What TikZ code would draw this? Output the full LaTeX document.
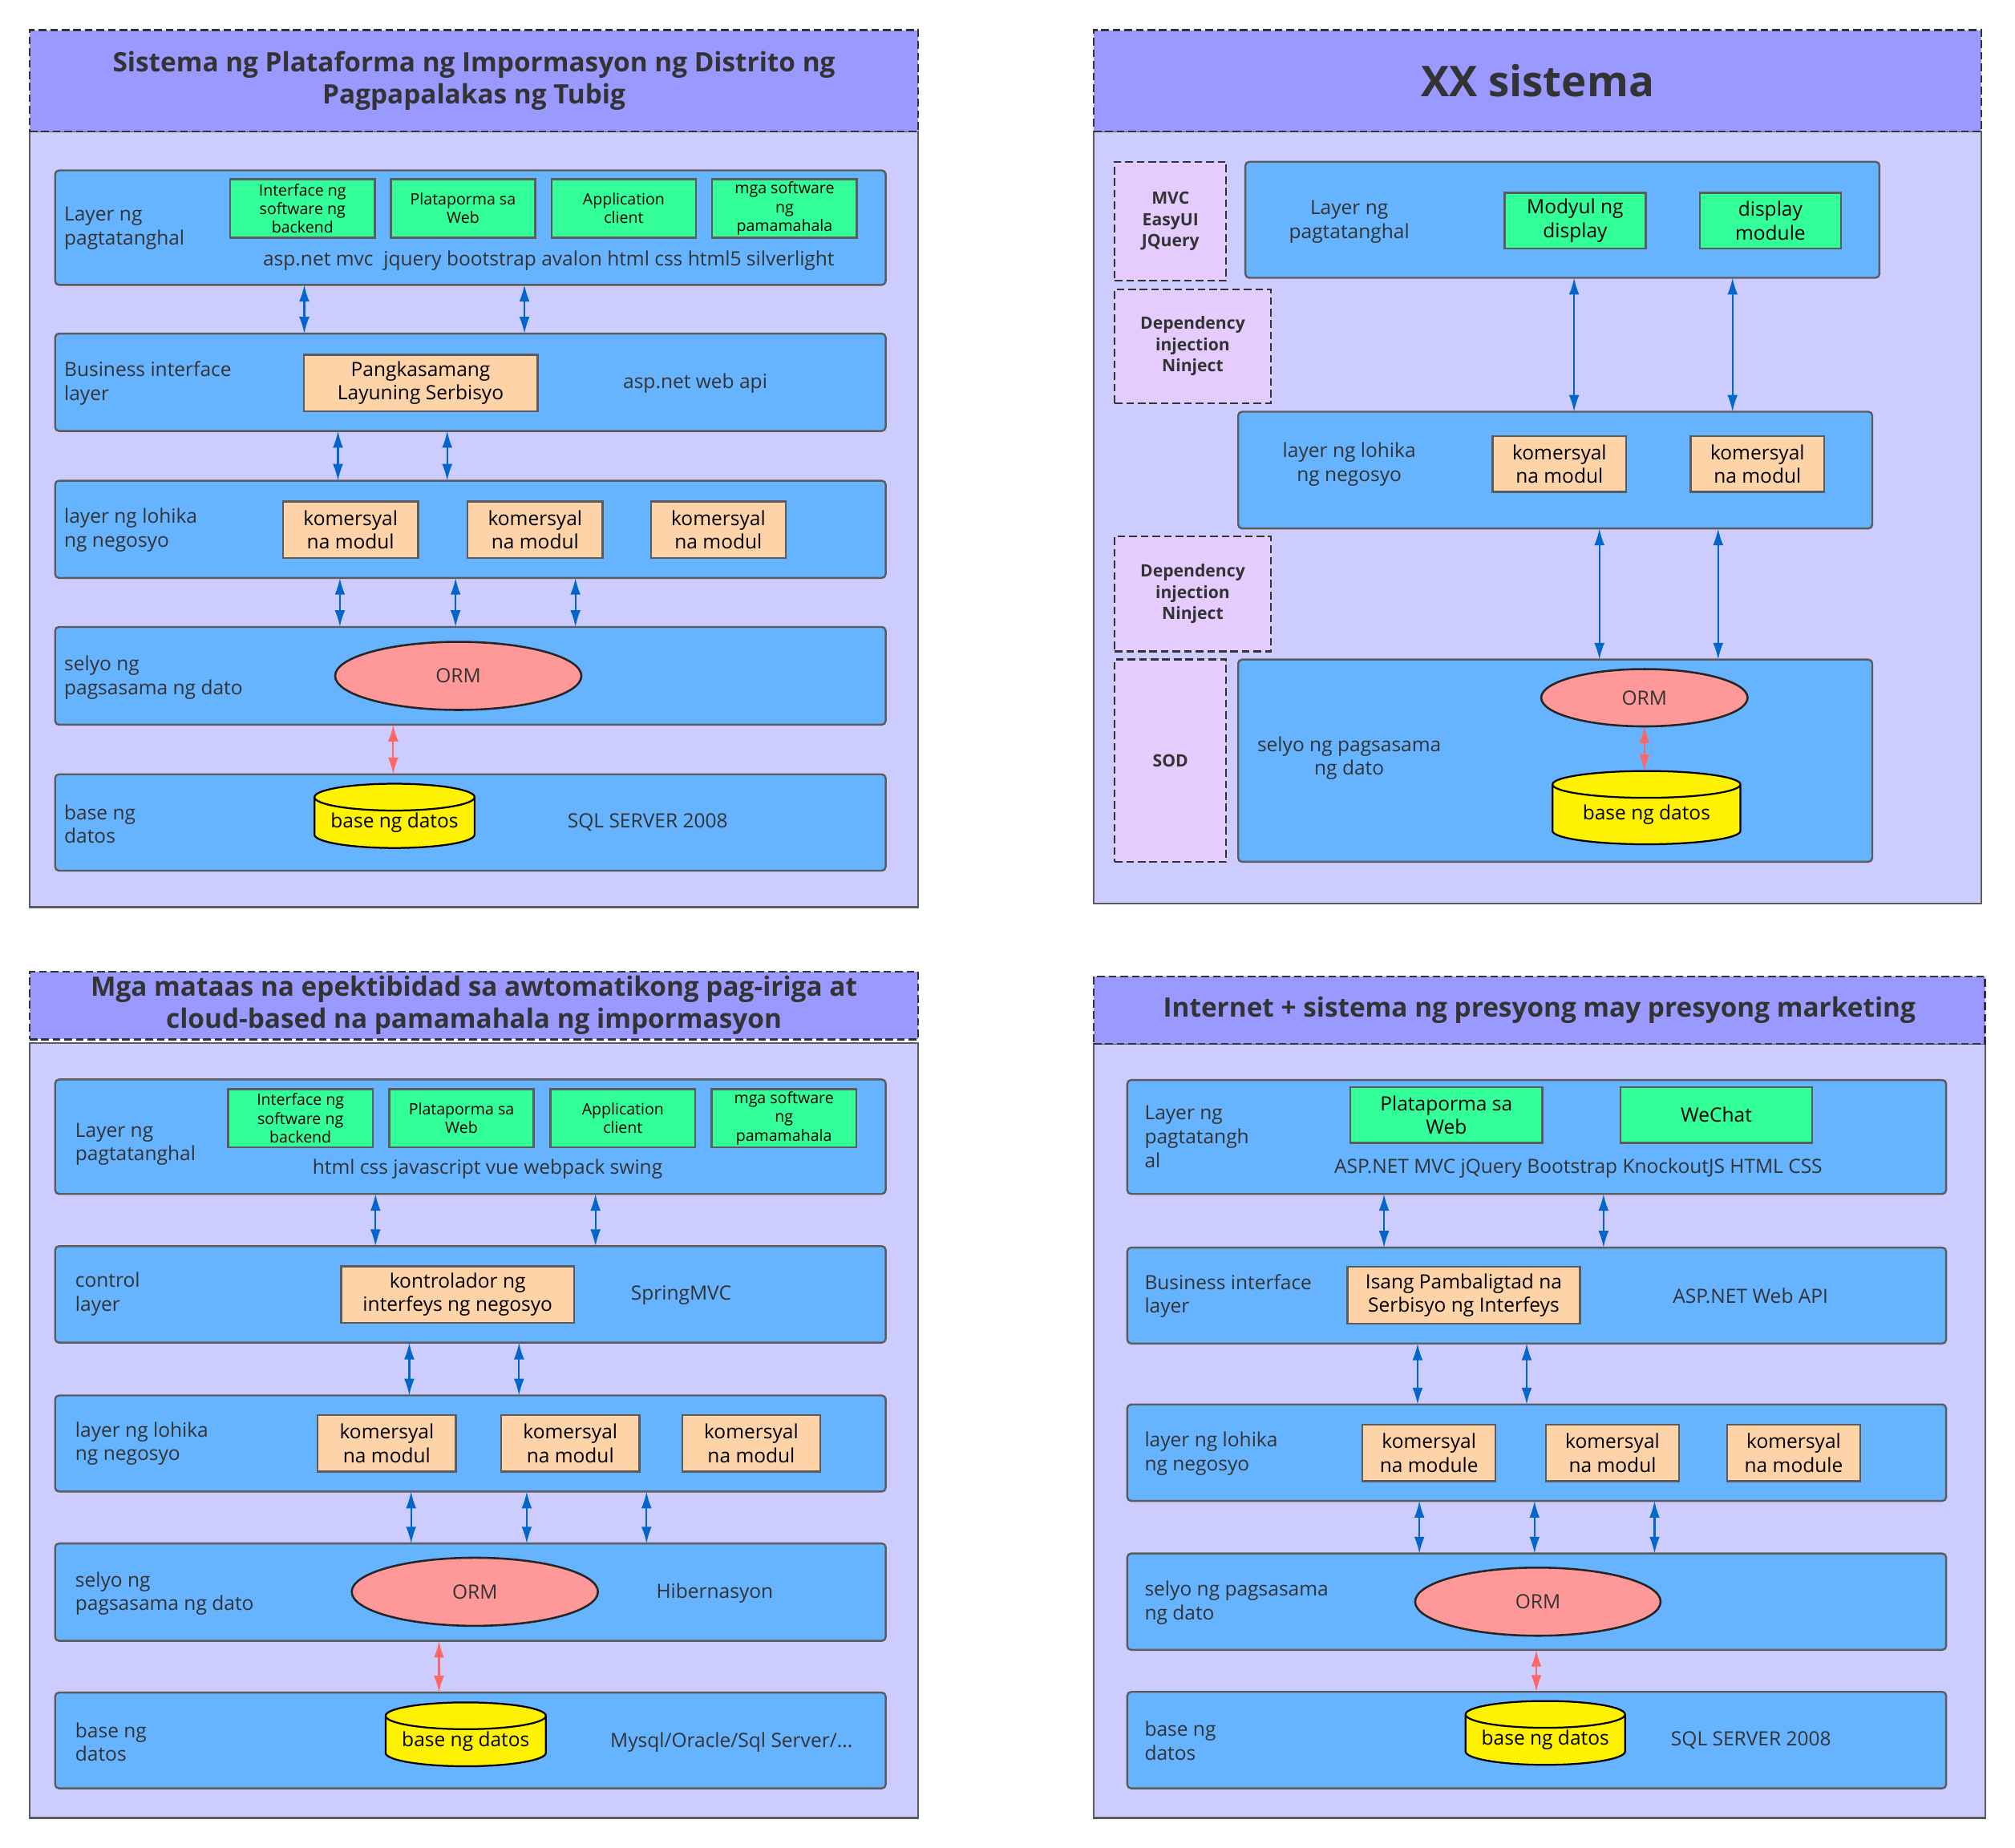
\documentclass[tikz,border=0pt]{standalone}
\usepackage{fontspec}
\setmainfont{Open Sans}
\usetikzlibrary{arrows.meta,shapes.geometric}

\definecolor{hdfill}{HTML}{9999FF}
\definecolor{bdfill}{HTML}{CCCCFF}
\definecolor{lyfill}{HTML}{66B3FF}
\definecolor{grfill}{HTML}{33FF99}
\definecolor{orfill}{HTML}{FFD3A8}
\definecolor{ormfill}{HTML}{FF9999}
\definecolor{sdfill}{HTML}{E5CCFF}
\definecolor{linec}{HTML}{5C5C5C}
\definecolor{txtc}{HTML}{333333}
\definecolor{bluearr}{HTML}{0066CC}
\definecolor{redarr}{HTML}{FF6666}

\newcommand{\fsz}[2]{\fontsize{#1}{#2}\selectfont}

\begin{document}
\begin{tikzpicture}[x=1pt, y=-1pt,
  every node/.style={inner sep=0pt, outer sep=0pt},
  headband/.style={anchor=north west, draw=txtc, dash pattern=on 6pt off 3pt, line width=1.5pt, fill=hdfill, text=txtc, align=center, font=\bfseries\fsz{20.8}{25}},
  bodybox/.style={anchor=north west, draw=linec, line width=1.4pt, fill=bdfill},
  layerbox/.style={anchor=north west, draw=linec, line width=1.5pt, fill=lyfill, rounded corners=3pt},
  sidebox/.style={anchor=north west, draw=txtc, dash pattern=on 6pt off 3pt, line width=1.5pt, fill=sdfill, text=txtc, align=center, font=\bfseries\fsz{13.2}{16.5}},
  lbl/.style={anchor=west, align=left, text=txtc, font=\fsz{15.3}{18.5}},
  clbl/.style={align=center, text=txtc, font=\fsz{15.3}{18.5}},
  greenbox/.style={draw=linec, line width=1.5pt, fill=grfill, align=center, font=\fsz{12.2}{14.5}, minimum width=112.5pt, minimum height=45.5pt},
  biggreen/.style={draw=linec, line width=1.5pt, fill=grfill, align=center, font=\fsz{15.3}{18.5}, minimum height=43.5pt},
  orangebox/.style={draw=linec, line width=1.5pt, fill=orfill, align=center, font=\fsz{15.3}{18.5}, minimum height=44pt},
  ormnode/.style={ellipse, draw=black!85, line width=1.6pt, fill=ormfill, text=txtc, font=\fsz{15.3}{18}},
  dbnode/.style={cylinder, shape border rotate=90, shape aspect=0.21, draw=black, line width=1.4pt, fill=yellow, font=\fsz{15.3}{18}},
  bluearrow/.style={draw=bluearr, line width=1.3pt, {Latex[length=13pt,width=8pt]}-{Latex[length=13pt,width=8pt]}},
  redarrow/.style={draw=redarr, line width=1.3pt, {Latex[length=13pt,width=8pt]}-{Latex[length=13pt,width=8pt]}}]

\useasboundingbox (0,0) rectangle (1568,1438);

% ---------- top left ----------
\node[bodybox, minimum width=691.4pt, minimum height=603.5pt] (b1) at (23.1,102.5) {};
\node[headband, minimum width=691.4pt, minimum height=79.1pt] (t1) at (23.1,23.4)
  {Sistema ng Plataforma ng Impormasyon ng Distrito ng\\Pagpapalakas ng Tubig};

\node[layerbox, minimum width=646.3pt, minimum height=89.1pt] (a1) at (42.9,132.6) {};
\node[layerbox, minimum width=646.3pt, minimum height=75.8pt] (a2) at (42.9,259.6) {};
\node[layerbox, minimum width=646.3pt, minimum height=75.7pt] (a3) at (42.9,374.1) {};
\node[layerbox, minimum width=646.3pt, minimum height=76.1pt] (a4) at (42.9,487.9) {};
\node[layerbox, minimum width=646.3pt, minimum height=75pt] (a5) at (42.9,602.6) {};

\node[lbl] (a1l) at (50,177.5) {Layer ng\\pagtatanghal};
\node[lbl] (a2l) at (50,298.3) {Business interface\\layer};
\node[lbl] (a3l) at (50,412.5) {layer ng lohika\\ng negosyo};
\node[lbl] (a4l) at (50,527.2) {selyo ng\\pagsasama ng dato};
\node[lbl] (a5l) at (50,641.4) {base ng\\datos};

\node[greenbox] (a1g1) at (235.4,162.2) {Interface ng\\software ng\\backend};
\node[greenbox] (a1g2) at (360.3,162.2) {Plataporma sa\\Web};
\node[greenbox] (a1g3) at (485.4,162.2) {Application\\client};
\node[greenbox] (a1g4) at (610.5,162.2) {mga software\\ng\\pamamahala};
\node[clbl] (a1t) at (427,202.8) {asp.net mvc\ \ jquery bootstrap avalon html css html5 silverlight};

\node[orangebox, minimum width=181.9pt] (a2o) at (327.3,298) {Pangkasamang\\Layuning Serbisyo};
\node[clbl] (a2t) at (541,298.6) {asp.net web api};

\node[orangebox, minimum width=105pt] (a3o1) at (272.8,412.2) {komersyal\\na modul};
\node[orangebox, minimum width=105pt] (a3o2) at (416.4,412.2) {komersyal\\na modul};
\node[orangebox, minimum width=105pt] (a3o3) at (559,412.2) {komersyal\\na modul};

\node[ormnode, minimum width=191.6pt, minimum height=53pt] (a4e) at (356.6,526) {ORM};

\node[dbnode, minimum width=124.6pt, minimum height=50pt] (a5d) at (307,640.5) {base ng datos};
\node[clbl] (a5t) at (504,640.2) {SQL SERVER 2008};

\draw[bluearrow] (a1.south -| 236.8,0) -- (a2.north -| 236.8,0);
\draw[bluearrow] (a1.south -| 408.1,0) -- (a2.north -| 408.1,0);
\draw[bluearrow] (a2.south -| 263,0) -- (a3.north -| 263,0);
\draw[bluearrow] (a2.south -| 348,0) -- (a3.north -| 348,0);
\draw[bluearrow] (a3.south -| 264.5,0) -- (a4.north -| 264.5,0);
\draw[bluearrow] (a3.south -| 354.5,0) -- (a4.north -| 354.5,0);
\draw[bluearrow] (a3.south -| 447.8,0) -- (a4.north -| 447.8,0);
\draw[redarrow] (a4.south -| 306,0) -- (a5.north -| 306,0);

% ---------- top right ----------
\node[bodybox, minimum width=690.9pt, minimum height=600.5pt] (b2) at (851,102.5) {};
\node[headband, minimum width=690.9pt, minimum height=79.1pt, font=\bfseries\fsz{33}{36}] (t2) at (851,23.4) {XX sistema};

\node[sidebox, minimum width=86.8pt, minimum height=92.5pt] (s1) at (867.4,125.9) {MVC\\EasyUI\\JQuery};
\node[sidebox, minimum width=121.4pt, minimum height=88.7pt] (s2) at (867.4,225.1) {Dependency\\injection\\Ninject};
\node[sidebox, minimum width=121.4pt, minimum height=89.5pt] (s3) at (867.4,417.5) {Dependency\\injection\\Ninject};
\node[sidebox, minimum width=86.8pt, minimum height=157.4pt] (s4) at (867.4,513.3) {SOD};

\node[layerbox, minimum width=493.4pt, minimum height=90.3pt] (c1) at (969.1,125.9) {};
\node[layerbox, minimum width=493.4pt, minimum height=90.9pt] (c2) at (963.5,320.4) {};
\node[layerbox, minimum width=493.4pt, minimum height=157.4pt] (c3) at (963.5,513.3) {};

\node[clbl] (c1l) at (1049.9,172.5) {Layer ng\\pagtatanghal};
\node[clbl] (c2l) at (1049.9,361.5) {layer ng lohika\\ng negosyo};
\node[clbl] (c3l) at (1049.9,590) {selyo ng pagsasama\\ng dato};

\node[biggreen, minimum width=109.7pt] (c1g1) at (1225.7,171.7) {Modyul ng\\display};
\node[biggreen, minimum width=109.7pt] (c1g2) at (1377.6,171.7) {display\\module};

\node[orangebox, minimum width=104pt, minimum height=43.4pt] (c2o1) at (1213.5,361.2) {komersyal\\na modul};
\node[orangebox, minimum width=104pt, minimum height=43.4pt] (c2o2) at (1367.6,361.2) {komersyal\\na modul};

\node[ormnode, minimum width=160.6pt, minimum height=44.6pt] (c3e) at (1279.6,543) {ORM};
\node[dbnode, minimum width=146.2pt, minimum height=57pt] (c3d) at (1281.2,634.1) {base ng datos};

\draw[bluearrow] (c1.south -| 1224.9,0) -- (c2.north -| 1224.9,0);
\draw[bluearrow] (c1.south -| 1348.2,0) -- (c2.north -| 1348.2,0);
\draw[bluearrow] (c2.south -| 1244.6,0) -- (c3.north -| 1244.6,0);
\draw[bluearrow] (c2.south -| 1337,0) -- (c3.north -| 1337,0);
\draw[redarrow] (c3e.south) -- (c3d.north -| c3e.south);

% ---------- bottom left ----------
\node[bodybox, minimum width=691.4pt, minimum height=603.2pt] (b3) at (23.1,811.6) {};
\node[headband, minimum width=691.4pt, minimum height=52.6pt] (t3) at (23.1,756.3)
  {Mga mataas na epektibidad sa awtomatikong pag-iriga at\\cloud-based na pamamahala ng impormasyon};

\node[layerbox, minimum width=646.3pt, minimum height=89.1pt] (d1) at (42.9,840.1) {};
\node[layerbox, minimum width=646.3pt, minimum height=75.1pt] (d2) at (42.9,969.8) {};
\node[layerbox, minimum width=646.3pt, minimum height=74.8pt] (d3) at (42.9,1086) {};
\node[layerbox, minimum width=646.3pt, minimum height=75.8pt] (d4) at (42.9,1201.2) {};
\node[layerbox, minimum width=646.3pt, minimum height=74.6pt] (d5) at (42.9,1317.2) {};

\node[lbl] (d1l) at (58.6,890.4) {Layer ng\\pagtatanghal};
\node[lbl] (d2l) at (58.6,1007.2) {control\\layer};
\node[lbl] (d3l) at (58.6,1123.6) {layer ng lohika\\ng negosyo};
\node[lbl] (d4l) at (58.6,1240.2) {selyo ng\\pagsasama ng dato};
\node[lbl] (d5l) at (58.6,1355.8) {base ng\\datos};

\node[greenbox] (d1g1) at (233.8,870.3) {Interface ng\\software ng\\backend};
\node[greenbox] (d1g2) at (359.1,870.3) {Plataporma sa\\Web};
\node[greenbox] (d1g3) at (484.7,870.3) {Application\\client};
\node[greenbox] (d1g4) at (610,870.3) {mga software\\ng\\pamamahala};
\node[clbl] (d1t) at (379.4,910.1) {html css javascript vue webpack swing};

\node[orangebox, minimum width=181.4pt] (d2o) at (356.1,1007.4) {kontrolador ng\\interfeys ng negosyo};
\node[clbl] (d2t) at (530,1007.7) {SpringMVC};

\node[orangebox, minimum width=107.6pt] (d3o1) at (301,1123.3) {komersyal\\na modul};
\node[orangebox, minimum width=107.6pt] (d3o2) at (443.8,1123.3) {komersyal\\na modul};
\node[orangebox, minimum width=107.6pt] (d3o3) at (584.6,1123.3) {komersyal\\na modul};

\node[ormnode, minimum width=191.6pt, minimum height=53pt] (d4e) at (369.5,1238.8) {ORM};
\node[clbl] (d4t) at (556.2,1239.9) {Hibernasyon};

\node[dbnode, minimum width=124.7pt, minimum height=49.7pt] (d5d) at (362.4,1355.3) {base ng datos};
\node[clbl] (d5t) at (569.2,1356.2) {Mysql/Oracle/Sql Server/...};

\draw[bluearrow] (d1.south -| 292.2,0) -- (d2.north -| 292.2,0);
\draw[bluearrow] (d1.south -| 463.4,0) -- (d2.north -| 463.4,0);
\draw[bluearrow] (d2.south -| 318.5,0) -- (d3.north -| 318.5,0);
\draw[bluearrow] (d2.south -| 403.9,0) -- (d3.north -| 403.9,0);
\draw[bluearrow] (d3.south -| 319.9,0) -- (d4.north -| 319.9,0);
\draw[bluearrow] (d3.south -| 409.9,0) -- (d4.north -| 409.9,0);
\draw[bluearrow] (d3.south -| 503.1,0) -- (d4.north -| 503.1,0);
\draw[redarrow] (d4.south -| 341.6,0) -- (d5.north -| 341.6,0);

% ---------- bottom right ----------
\node[bodybox, minimum width=693.7pt, minimum height=602.5pt] (b4) at (851,812.3) {};
\node[headband, minimum width=693.7pt, minimum height=52.4pt] (t4) at (851,759.9)
  {Internet + sistema ng presyong may presyong marketing};

\node[layerbox, minimum width=637.2pt, minimum height=88.7pt] (e1) at (877.2,840.5) {};
\node[layerbox, minimum width=637.2pt, minimum height=74.7pt] (e2) at (877.2,970.9) {};
\node[layerbox, minimum width=637.2pt, minimum height=75.1pt] (e3) at (877.2,1093) {};
\node[layerbox, minimum width=637.2pt, minimum height=75pt] (e4) at (877.2,1209) {};
\node[layerbox, minimum width=637.2pt, minimum height=75.1pt] (e5) at (877.2,1316.7) {};

\node[lbl] (e1l) at (890.7,884.6) {Layer ng\\pagtatangh\\al};
\node[lbl] (e2l) at (890.7,1008.6) {Business interface\\layer};
\node[lbl] (e3l) at (890.7,1131.3) {layer ng lohika\\ng negosyo};
\node[lbl] (e4l) at (890.7,1247.3) {selyo ng pagsasama\\ng dato};
\node[lbl] (e5l) at (890.7,1354.7) {base ng\\datos};

\node[biggreen, minimum width=149.4pt] (e1g1) at (1125.5,867.7) {Plataporma sa\\Web};
\node[biggreen, minimum width=149.4pt] (e1g2) at (1335.6,867.7) {WeChat};
\node[clbl] (e1t) at (1228.2,909.2) {ASP.NET MVC jQuery Bootstrap KnockoutJS HTML CSS};

\node[orangebox, minimum width=181.1pt] (e2o) at (1139,1008) {Isang Pambaligtad na\\Serbisyo ng Interfeys};
\node[clbl] (e2t) at (1362.2,1008.3) {ASP.NET Web API};

\node[orangebox, minimum width=103.6pt] (e3o1) at (1112,1130.8) {komersyal\\na module};
\node[orangebox, minimum width=103.6pt] (e3o2) at (1254.8,1130.8) {komersyal\\na modul};
\node[orangebox, minimum width=103.6pt] (e3o3) at (1395.8,1130.8) {komersyal\\na module};

\node[ormnode, minimum width=191pt, minimum height=53pt] (e4e) at (1196.7,1246.5) {ORM};

\node[dbnode, minimum width=124.1pt, minimum height=49.7pt] (e5d) at (1202.5,1354.2) {base ng datos};
\node[clbl] (e5t) at (1362.6,1354.7) {SQL SERVER 2008};

\draw[bluearrow] (e1.south -| 1077,0) -- (e2.north -| 1077,0);
\draw[bluearrow] (e1.south -| 1247.8,0) -- (e2.north -| 1247.8,0);
\draw[bluearrow] (e2.south -| 1103.1,0) -- (e3.north -| 1103.1,0);
\draw[bluearrow] (e2.south -| 1188,0) -- (e3.north -| 1188,0);
\draw[bluearrow] (e3.south -| 1104.5,0) -- (e4.north -| 1104.5,0);
\draw[bluearrow] (e3.south -| 1194.1,0) -- (e4.north -| 1194.1,0);
\draw[bluearrow] (e3.south -| 1287.5,0) -- (e4.north -| 1287.5,0);
\draw[redarrow] (e4.south -| 1195.5,0) -- (e5.north -| 1195.5,0);
\end{tikzpicture}
\end{document}
